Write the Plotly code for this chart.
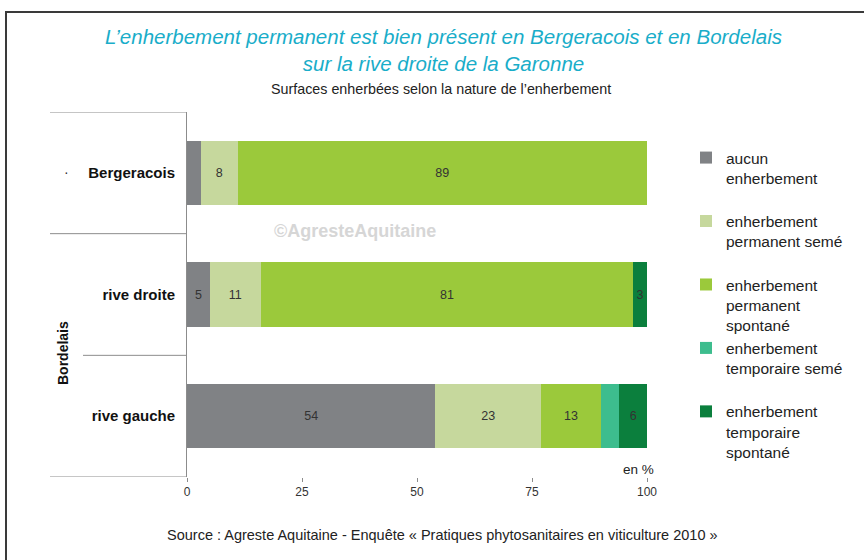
import plotly.graph_objects as go

# Share of vineyard area by type of grass cover (%)
categories = ["Bergeracois", "rive droite", "rive gauche"]
series_names = [
    "aucun<br>enherbement<br> ",
    "enherbement<br>permanent semé<br> ",
    "enherbement<br>permanent<br>spontané",
    "enherbement<br>temporaire semé<br> ",
    "enherbement<br>temporaire<br>spontané",
]
aucun = [3, 5, 54]
permanent_seme = [8, 11, 23]
permanent_spontane = [89, 81, 13]
temporaire_seme = [0, 0, 4]
temporaire_spontane = [0, 3, 6]
series_values = [aucun, permanent_seme, permanent_spontane, temporaire_seme, temporaire_spontane]
colors = ["#808285", "#c6d89d", "#9bc93b", "#3dbd8e", "#0b7f3d"]
# segments printed without a value label: (series index, category index)
unlabelled = {(0, 0), (3, 2)}

x_ticks = [0, 25, 50, 75, 100]

FONT = "Liberation Sans, Arial, sans-serif"

fig = go.Figure()
for si, (name, vals, col) in enumerate(zip(series_names, series_values, colors)):
    labels = [
        "" if (v == 0 or (si, ci) in unlabelled) else str(v)
        for ci, v in enumerate(vals)
    ]
    fig.add_trace(go.Bar(
        y=categories, x=vals, name=name, orientation="h",
        marker=dict(color=col, line=dict(width=0)),
        width=0.53,
        text=labels, textposition="inside", insidetextanchor="middle",
        textangle=0, constraintext="none",
        textfont=dict(family=FONT, size=12.5, color="#333333"),
        hoverinfo="skip",
    ))

# plot-area geometry (pixels) used to place paper-referenced decorations
L, R, T, B = 187, 647, 112, 477
W, H = R - L, B - T


def px(x):
    return (x - L) / W


def py(y):
    return (B - y) / H


shapes = [
    # outer frame
    dict(type="rect", xref="paper", yref="paper",
         x0=px(6), x1=px(880), y0=py(580), y1=py(12),
         line=dict(color="#3a3a3a", width=2), layer="below"),
    # category group separators
    dict(type="line", xref="paper", yref="y", x0=px(50), x1=0, y0=-0.5, y1=-0.5,
         line=dict(color="#8c8c8c", width=1)),
    dict(type="line", xref="paper", yref="y", x0=px(50), x1=0, y0=0.5, y1=0.5,
         line=dict(color="#8c8c8c", width=1)),
    dict(type="line", xref="paper", yref="y", x0=px(83), x1=0, y0=1.5, y1=1.5,
         line=dict(color="#8c8c8c", width=1)),
    dict(type="line", xref="paper", yref="y", x0=px(50), x1=0, y0=2.5, y1=2.5,
         line=dict(color="#8c8c8c", width=1)),
]

annotations = [
    dict(text="<i>L’enherbement permanent est bien présent en Bergeracois et en Bordelais<br>sur la rive droite de la Garonne</i>",
         xref="paper", yref="paper", x=px(443), y=py(50), xanchor="center", yanchor="middle",
         showarrow=False, font=dict(family=FONT, size=20.5, color="#19adc9"),
         ),
    dict(text="Surfaces enherbées selon la nature de l’enherbement",
         xref="paper", yref="paper", x=px(441), y=py(89), xanchor="center", yanchor="middle",
         showarrow=False, font=dict(family=FONT, size=14.3, color="#222222")),
    dict(text="Source : Agreste Aquitaine - Enquête « Pratiques phytosanitaires en viticulture 2010 »",
         xref="paper", yref="paper", x=px(442), y=py(535), xanchor="center", yanchor="middle",
         showarrow=False, font=dict(family=FONT, size=14.5, color="#222222")),
    dict(text="<b>Bordelais</b>", textangle=-90,
         xref="paper", yref="paper", x=px(63), y=py(353), xanchor="center", yanchor="middle",
         showarrow=False, font=dict(family=FONT, size=14, color="#111111")),
    dict(text="·", xref="paper", yref="paper", x=px(66), y=py(172), xanchor="center", yanchor="middle",
         showarrow=False, font=dict(family=FONT, size=14, color="#333333")),
    dict(text="<b>©AgresteAquitaine</b>",
         xref="paper", yref="paper", x=px(355), y=py(231), xanchor="center", yanchor="middle",
         showarrow=False, font=dict(family=FONT, size=18, color="#d6d6d6")),
    dict(text="en %", xref="paper", yref="paper", x=px(638), y=py(469), xanchor="center", yanchor="middle",
         showarrow=False, font=dict(family=FONT, size=13.5, color="#222222")),
]

fig.update_layout(
    width=864, height=560,
    margin=dict(l=L, r=864 - R, t=T, b=560 - B, pad=0),
    paper_bgcolor="white", plot_bgcolor="white",
    barmode="stack", bargap=0.47,
    font=dict(family=FONT, color="#222222"),
    showlegend=True,
    legend=dict(
        x=px(686), y=py(141), xanchor="left", yanchor="top",
        traceorder="normal", valign="top",
        font=dict(family=FONT, size=15.5, color="#222222"),
        bgcolor="rgba(0,0,0,0)", itemclick=False,
    ),
    xaxis=dict(
        range=[0, 100], tickvals=x_ticks, ticktext=[str(t) for t in x_ticks],
        showgrid=False, zeroline=False, showline=False,
        ticks="outside", ticklen=4, tickcolor="#8c8c8c",
        tickfont=dict(family=FONT, size=12, color="#333333"),
        fixedrange=True,
    ),
    yaxis=dict(
        type="category", categoryorder="array", categoryarray=categories,
        range=[2.5, -0.5], showgrid=False, zeroline=False,
        showline=True, linecolor="#8c8c8c", linewidth=1,
        ticks="", ticklabelstandoff=8,
        tickfont=dict(family=FONT, size=15, color="#111111", weight="bold"),
        fixedrange=True,
    ),
    shapes=shapes,
    annotations=annotations,
)

fig.write_html("out.html")
